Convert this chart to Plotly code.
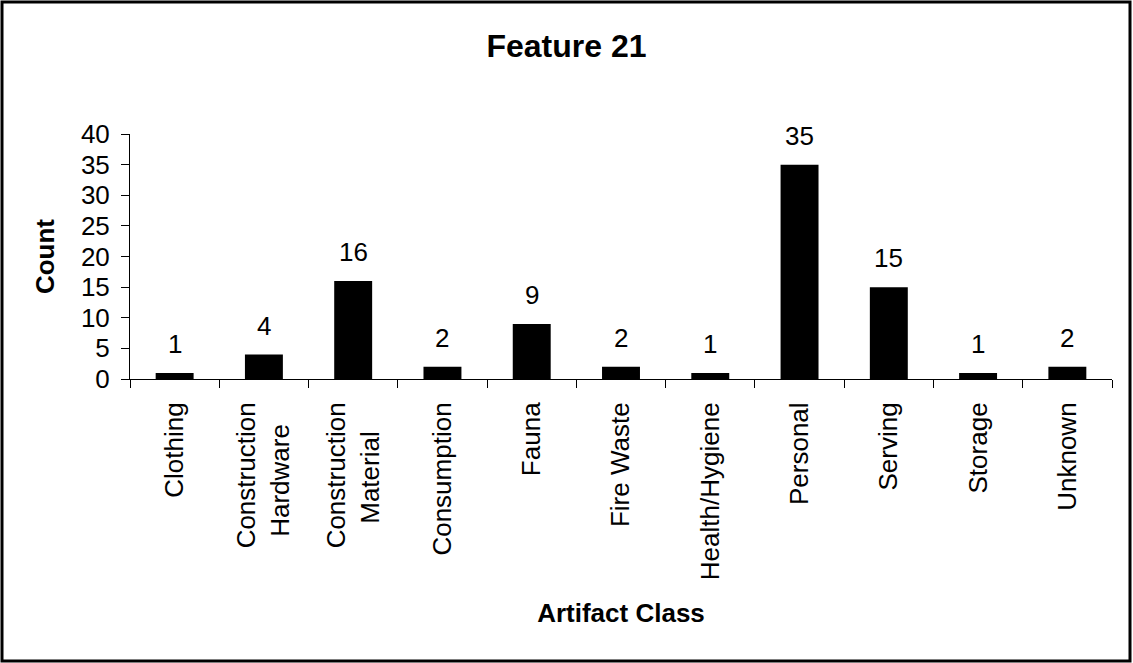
import plotly.graph_objects as go

categories = ["Clothing", "Construction Hardware", "Construction Material", "Consumption",
              "Fauna", "Fire Waste", "Health/Hygiene", "Personal", "Serving", "Storage", "Unknown"]
tick_labels = ["Clothing", "Construction<br>Hardware&nbsp;&nbsp;&nbsp;", "Construction<br>Material&nbsp;&nbsp;&nbsp;&nbsp;",
               "Consumption", "Fauna", "Fire Waste", "Health/Hygiene", "Personal", "Serving", "Storage", "Unknown"]
counts = [1, 4, 16, 2, 9, 2, 1, 35, 15, 1, 2]
y_ticks = [0, 5, 10, 15, 20, 25, 30, 35, 40]

W, H = 1133, 663
L, R, T, B = 130, 21, 134, 284
pw, ph = W - L - R, H - T - B

FONT = "Arial, Liberation Sans, sans-serif"

fig = go.Figure(go.Bar(x=categories, y=counts, marker=dict(color="black", line=dict(width=0))))

for c, v in zip(categories, counts):
    fig.add_annotation(x=c, y=v, text=str(v), showarrow=False, yanchor="bottom",
                       yshift=12, font=dict(size=26, color="black", family=FONT))

def px_x(p):
    return (p - L) / pw

def px_y(p):
    return (T + ph - p) / ph

fig.add_shape(type="rect", xref="paper", yref="paper",
              x0=px_x(2), x1=px_x(1130), y0=px_y(661), y1=px_y(2),
              line=dict(color="black", width=3), fillcolor="rgba(0,0,0,0)")

fig.update_layout(
    width=W, height=H,
    margin=dict(l=L, r=R, t=T, b=B, autoexpand=False),
    paper_bgcolor="white", plot_bgcolor="white",
    font=dict(family=FONT, size=26, color="black"),
    bargap=0.575,
    showlegend=False,
    title=dict(text="<b>Feature 21</b>", x=0.5, xref="container", xanchor="center",
               y=1 - 46 / H, yref="container", yanchor="middle",
               font=dict(size=32, family=FONT, color="black")),
)
fig.update_xaxes(
    type="category", tickangle=-90, tickson="boundaries", ticks="outside", ticklen=8,
    tickcolor="black", showline=True, linecolor="black", linewidth=1, showgrid=False,
    tickvals=categories, ticktext=tick_labels, ticklabelstandoff=12,
    tickfont=dict(size=26), automargin=False,
    title=dict(text="<b>Artifact Class</b>", standoff=24, font=dict(size=26)),
)
fig.update_yaxes(
    range=[0, 40], tickvals=y_ticks, ticks="outside", ticklen=8, tickcolor="black",
    showline=True, linecolor="black", linewidth=1, showgrid=False, zeroline=False,
    tickfont=dict(size=26), automargin=False, ticklabelstandoff=6,
    title=dict(text="<b>Count</b>", standoff=18, font=dict(size=26)),
)

fig.write_html("out.html", config={"displayModeBar": False},
               post_script="document.body.style.margin='0px';document.body.style.padding='0px';")
